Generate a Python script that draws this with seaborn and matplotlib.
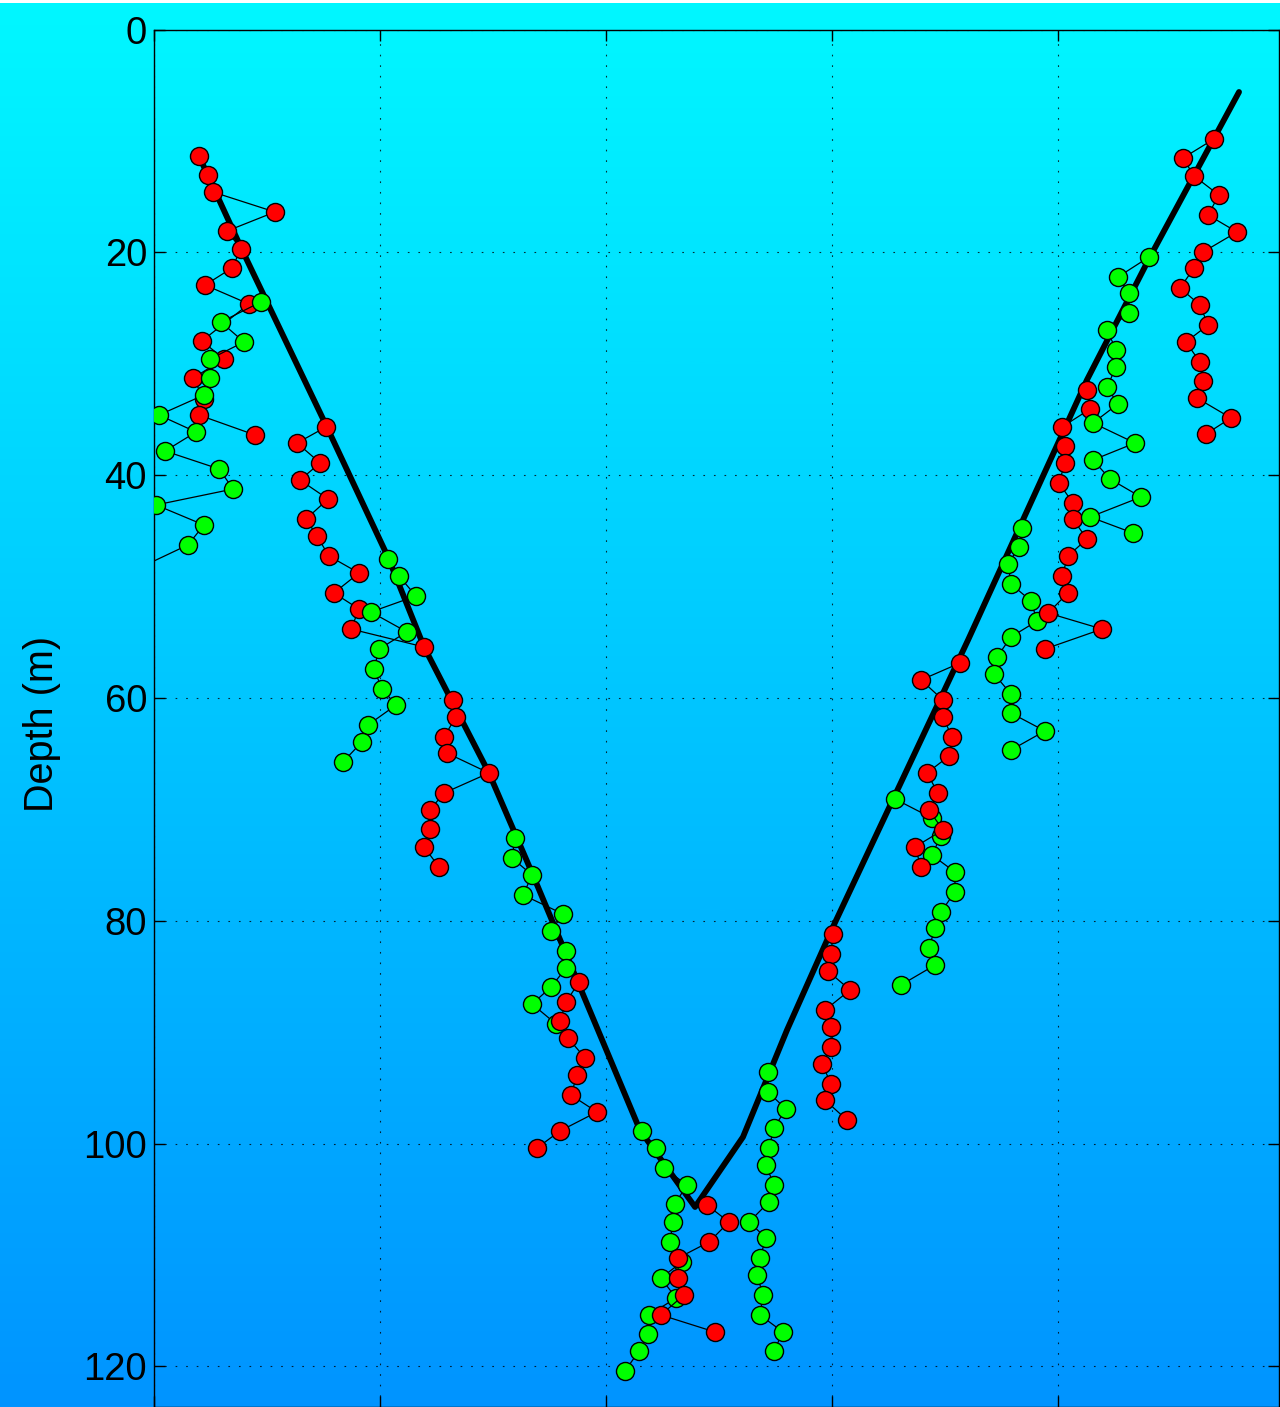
import numpy as np
import matplotlib
matplotlib.use("Agg")
import matplotlib.pyplot as plt
from matplotlib.colors import LinearSegmentedColormap
import seaborn as sns

# ---------------- data ----------------
# thick black trajectory
track_x = [0.199, 0.394, 0.765, 1.035, 1.195, 1.482, 1.673, 2.150, 2.394,
           2.606, 2.801, 3.004, 3.602, 4.128, 4.407, 4.801]
track_depth = [11.36, 19.97, 35.68, 47.35, 55.43, 66.74, 75.72, 98.79, 105.70,
               99.42, 89.81, 80.57, 54.80, 31.46, 20.42, 5.61]

# red / green point chains (x, depth)
r1_x = [0.199, 0.239, 0.261, 0.535, 0.323, 0.385, 0.345, 0.226, 0.420, 0.212,
        0.310, 0.173, 0.221, 0.199, 0.447]
r1_depth = [11.36, 13.06, 14.59, 16.38, 18.09, 19.70, 21.41, 22.94, 24.64, 27.96,
            29.58, 31.28, 33.17, 34.61, 36.40]

g1_x = [0.473, 0.296, 0.398, 0.248, 0.248, 0.221, 0.022, 0.186, 0.049, 0.288,
        0.350, 0.009, 0.221, 0.150, -0.150]
g1_depth = [24.46, 26.26, 28.05, 29.58, 31.28, 32.81, 34.61, 36.13, 37.84, 39.45,
            41.25, 42.68, 44.48, 46.27, 49.15]

r2_x = [0.761, 0.633, 0.735, 0.646, 0.770, 0.673, 0.721, 0.774, 0.907, 0.796,
        0.907, 0.872, 1.195, 1.323, 1.336, 1.283, 1.296, 1.482, 1.283, 1.221,
        1.221, 1.195, 1.261]
r2_depth = [35.68, 37.12, 38.91, 40.44, 42.15, 43.94, 45.47, 47.26, 48.79, 50.58,
            52.02, 53.82, 55.43, 60.19, 61.71, 63.51, 64.95, 66.74, 68.54, 70.06,
            71.77, 73.38, 75.18]

g2_x = [1.035, 1.084, 1.159, 0.960, 1.119, 0.996, 0.973, 1.009, 1.071, 0.947,
        0.920, 0.836]
g2_depth = [47.53, 49.06, 50.85, 52.29, 54.08, 55.61, 57.41, 59.20, 60.64, 62.43,
            63.96, 65.75]

g3_x = [1.597, 1.584, 1.673, 1.633, 1.810, 1.757, 1.823, 1.823, 1.757, 1.673, 1.779]
g3_depth = [72.58, 74.37, 75.90, 77.69, 79.40, 80.92, 82.72, 84.25, 85.95, 87.48, 89.27]

r3_x = [1.881, 1.823, 1.796, 1.832, 1.907, 1.872, 1.845, 1.960, 1.796, 1.695]
r3_depth = [85.50, 87.30, 89.00, 90.53, 92.32, 93.85, 95.65, 97.17, 98.88, 100.40]

g4a_x = [2.159, 2.221, 2.257, 2.358, 2.305, 2.296, 2.283, 2.336, 2.243, 2.310,
         2.190, 2.186, 2.146, 2.084]
g4a_depth = [98.88, 100.40, 102.20, 103.73, 105.43, 107.05, 108.84, 110.64, 112.07,
             113.87, 115.39, 117.10, 118.63, 120.42]

r4_x = [2.447, 2.544, 2.456, 2.319, 2.319, 2.345, 2.243, 2.482]
r4_depth = [105.52, 107.05, 108.84, 110.28, 112.07, 113.60, 115.39, 116.92]

g4b_x = [2.717, 2.717, 2.796, 2.743, 2.721, 2.708, 2.743, 2.721, 2.633, 2.708,
         2.681, 2.668, 2.695, 2.681, 2.783, 2.743]
g4b_depth = [93.58, 95.38, 96.90, 98.61, 100.40, 101.93, 103.73, 105.25, 107.05,
             108.48, 110.28, 111.80, 113.60, 115.39, 116.92, 118.63]

r5_x = [3.004, 2.996, 2.982, 3.080, 2.969, 2.996, 2.996, 2.956, 2.996, 2.969, 3.066]
r5_depth = [81.19, 82.99, 84.52, 86.22, 88.02, 89.54, 91.34, 92.86, 94.66, 96.10, 97.89]

g6_x = [3.279, 3.442, 3.482, 3.442, 3.544, 3.544, 3.482, 3.456, 3.429, 3.456, 3.305]
g6_depth = [69.08, 70.78, 72.40, 74.10, 75.63, 77.42, 79.22, 80.66, 82.45, 83.98, 85.77]

r6_x = [3.566, 3.394, 3.491, 3.491, 3.531, 3.518, 3.420, 3.469, 3.429, 3.491,
        3.367, 3.394]
r6_depth = [56.87, 58.39, 60.19, 61.71, 63.51, 65.22, 66.74, 68.54, 70.06, 71.86,
            73.38, 75.18]

g7b_x = [3.841, 3.827, 3.779, 3.792, 3.881, 3.907, 3.792, 3.730, 3.717, 3.792,
         3.792, 3.942, 3.792]
g7b_depth = [44.75, 46.45, 47.98, 49.78, 51.30, 53.10, 54.53, 56.33, 57.85, 59.65,
             61.36, 62.97, 64.68]

r7_x = [4.128, 4.142, 4.018, 4.031, 4.031, 4.004, 4.066, 4.066, 4.128, 4.044,
        4.018, 4.044, 3.956, 4.195, 3.942]
r7_depth = [32.36, 34.07, 35.68, 37.39, 38.91, 40.71, 42.50, 43.94, 45.74, 47.26,
            49.06, 50.58, 52.38, 53.82, 55.61]

g7_x = [4.403, 4.265, 4.314, 4.314, 4.217, 4.257, 4.257, 4.217, 4.265, 4.155,
        4.341, 4.155, 4.230, 4.367, 4.142, 4.332]
g7_depth = [20.42, 22.22, 23.65, 25.45, 26.97, 28.77, 30.30, 32.09, 33.62, 35.32,
            37.12, 38.64, 40.35, 41.97, 43.76, 45.20]

r8_x = [4.690, 4.553, 4.602, 4.712, 4.664, 4.792, 4.642, 4.602, 4.540, 4.628,
        4.664, 4.566, 4.628, 4.642, 4.615, 4.765, 4.655]
r8_depth = [9.83, 11.54, 13.15, 14.86, 16.65, 18.18, 19.97, 21.41, 23.20, 24.73,
            26.53, 28.05, 29.85, 31.55, 33.08, 34.87, 36.31]

depth_ticks = [0, 20, 40, 60, 80, 100, 120]
x_ticks = [0, 1, 2, 3, 4]

RED = "#ff0000"
GREEN = "#00ff00"
chains = [
    (r1_x, r1_depth, RED), (g1_x, g1_depth, GREEN),
    (r2_x, r2_depth, RED), (g2_x, g2_depth, GREEN),
    (g3_x, g3_depth, GREEN), (r3_x, r3_depth, RED),
    (g4a_x, g4a_depth, GREEN), (r4_x, r4_depth, RED),
    (g4b_x, g4b_depth, GREEN), (r5_x, r5_depth, RED),
    (g6_x, g6_depth, GREEN), (r6_x, r6_depth, RED),
    (g7b_x, g7b_depth, GREEN), (r7_x, r7_depth, RED),
    (g7_x, g7_depth, GREEN), (r8_x, r8_depth, RED),
]

# ---------------- figure ----------------
sns.set_theme(style="ticks")
plt.rcParams["font.family"] = ["Liberation Sans", "DejaVu Sans"]

W, H = 1280, 1407
fig = plt.figure(figsize=(W / 100, H / 100), dpi=100, facecolor="white")

# gradient background over the whole figure
bg = fig.add_axes([0, 0, 1, (H - 3) / H])
grad = np.linspace(0, 1, 512)[:, None]
cmap = LinearSegmentedColormap.from_list("bg", [(0.0, 0.97, 1.0), (0.0, 0.58, 1.0)])
bg.imshow(grad, aspect="auto", cmap=cmap, extent=[0, 1, 0, 1], origin="upper")
bg.axis("off")

left_px, right_px, top_px = 154, 1279, 29.5
ax = fig.add_axes([left_px / W, 0, (right_px - left_px) / W, (H - top_px) / H])
ax.set_facecolor("none")

sns.lineplot(x=track_x, y=track_depth, sort=False, estimator=None, color="black",
             linewidth=4.2, ax=ax, zorder=2.5)

for i, (cx, cy, col) in enumerate(chains):
    sns.lineplot(x=cx, y=cy, sort=False, estimator=None, color="black",
                 linewidth=0.9, marker="o", markersize=13,
                 markerfacecolor=col, markeredgecolor="black",
                 markeredgewidth=1.0, ax=ax, zorder=3 + i)

ax.set_xlim(0, (right_px - left_px) / 226.0)
ax.set_ylim((H - top_px) / 11.14, 0)
ax.set_yticks(depth_ticks)
ax.set_xticks(x_ticks)
ax.tick_params(axis="both", direction="in", length=8, width=1, colors="black",
               top=True, right=True, labelsize=27.5, pad=5)
ax.tick_params(axis="x", labelbottom=False)
ax.grid(True, color="black", linestyle=(0, (1.5, 8)), linewidth=0.8, alpha=0.8)
for s in ax.spines.values():
    s.set_visible(True)
    s.set_color("black")
    s.set_linewidth(1.0)

ax.set_xlabel("")
ax.set_ylabel("Depth (m)", fontsize=28.5, color="black")
ax.yaxis.set_label_coords(-0.083, 0.496)

fig.savefig("out.png", dpi=100, facecolor="white")
